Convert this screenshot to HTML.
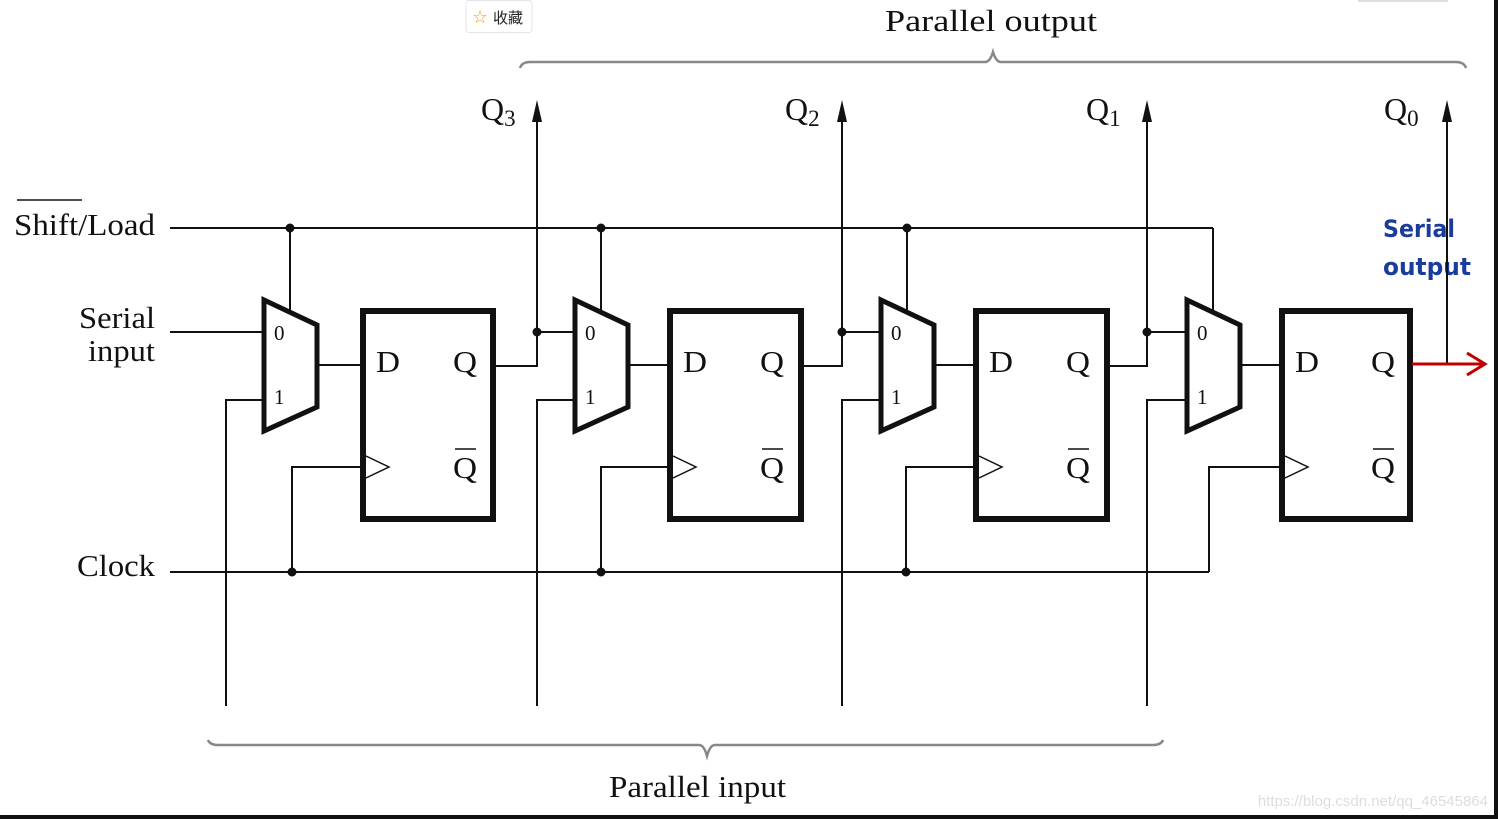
<!DOCTYPE html>
<html><head><meta charset="utf-8"><style>
html,body{margin:0;padding:0;background:#fff;width:1498px;height:819px;overflow:hidden}
svg{display:block}
.s{font-family:"Liberation Serif",serif;fill:#111}
</style></head><body>
<svg width="1498" height="819" viewBox="0 0 1498 819" xmlns="http://www.w3.org/2000/svg">
<rect x="0" y="0" width="1498" height="819" fill="#fff"/>
<rect x="1494" y="0" width="4" height="819" fill="#111"/>
<rect x="0" y="815" width="1498" height="4" fill="#111"/>
<rect x="466" y="0.5" width="66" height="32" rx="3" fill="#fff" stroke="#e4e4e4"/>
<text x="472" y="23" font-size="18" fill="#f39c12" font-family="DejaVu Sans,sans-serif">☆</text>
<text x="493" y="23" font-size="15" fill="#222" font-family="Noto Sans CJK SC,sans-serif">收藏</text>
<rect x="1358" y="0" width="90" height="2" fill="#ddd"/>
<path d="M520 68 Q522 62 530 62 L985 62 Q990 62 993 52 Q996 62 1001 62 L1456 62 Q1464 62 1466 68" fill="none" stroke="#888" stroke-width="2.5"/>
<path d="M208 740 Q210 745 218 745 L699 745 Q704 745 707 756 Q710 745 715 745 L1153 745 Q1161 745 1163 740" fill="none" stroke="#888" stroke-width="2.5"/>
<text class="s" x="885" y="31" font-size="31" textLength="212" lengthAdjust="spacingAndGlyphs">Parallel output</text>
<text class="s" x="609" y="797" font-size="31" textLength="177" lengthAdjust="spacingAndGlyphs">Parallel input</text>
<line x1="17" y1="200" x2="82" y2="200" stroke="#111" stroke-width="1.5"/>
<text class="s" x="14" y="235" font-size="31" textLength="141" lengthAdjust="spacingAndGlyphs">Shift/Load</text>
<text class="s" x="79" y="328" font-size="31" textLength="76" lengthAdjust="spacingAndGlyphs">Serial</text>
<text class="s" x="88" y="361" font-size="31" textLength="67" lengthAdjust="spacingAndGlyphs">input</text>
<text class="s" x="77" y="576" font-size="31" textLength="78" lengthAdjust="spacingAndGlyphs">Clock</text>
<g stroke="#111" stroke-width="2" fill="none">
<line x1="170" y1="228" x2="1213" y2="228"/>
<line x1="170" y1="572" x2="1209" y2="572"/>
<line x1="170" y1="332" x2="263" y2="332"/>
<polyline points="1213,228 1213,313"/>
<polyline points="1209,572 1209,467 1280,467"/>
</g>
<g fill="#111">
<circle cx="290" cy="228" r="4.5"/><circle cx="601" cy="228" r="4.5"/><circle cx="907" cy="228" r="4.5"/>
<circle cx="292" cy="572" r="4.5"/><circle cx="601" cy="572" r="4.5"/><circle cx="906" cy="572" r="4.5"/>
<circle cx="537" cy="332" r="4.5"/><circle cx="842" cy="332" r="4.5"/><circle cx="1147" cy="332" r="4.5"/>
</g>
<g stroke="#111" stroke-width="2" fill="none">
<line x1="290" y1="228" x2="290" y2="311"/>
<polyline points="292,572 292,467 361,467"/>
<polyline points="226,706 226,400 263,400"/>
<line x1="317" y1="365" x2="361" y2="365"/>
<polyline points="494,366 537,366 537,110"/>
<line x1="537" y1="332" x2="574" y2="332"/>
<line x1="601" y1="228" x2="601" y2="311"/>
<polyline points="601,572 601,467 668,467"/>
<polyline points="537,706 537,400 574,400"/>
<line x1="628" y1="365" x2="668" y2="365"/>
<polyline points="803,366 842,366 842,110"/>
<line x1="842" y1="332" x2="880" y2="332"/>
<line x1="907" y1="228" x2="907" y2="311"/>
<polyline points="906,572 906,467 974,467"/>
<polyline points="842,706 842,400 880,400"/>
<line x1="934" y1="365" x2="974" y2="365"/>
<polyline points="1109,366 1147,366 1147,110"/>
<line x1="1147" y1="332" x2="1186" y2="332"/>
<polyline points="1147,706 1147,400 1186,400"/>
<line x1="1240" y1="365" x2="1280" y2="365"/>
<line x1="1447" y1="364" x2="1447" y2="110"/>
</g>
<g fill="#111">
<polygon points="537,100 532,122 542,122"/>
<polygon points="842,100 837,122 847,122"/>
<polygon points="1147,100 1142,122 1152,122"/>
<polygon points="1447,100 1442,122 1452,122"/>
</g>
<g stroke="#111" stroke-width="5" fill="#fff">
<polygon points="264,300 317,325 317,407 264,431"/>
<polygon points="575,300 628,325 628,407 575,431"/>
<polygon points="881,300 934,325 934,407 881,431"/>
<polygon points="1187,300 1240,325 1240,407 1187,431"/>
</g>
<g stroke="#111" stroke-width="6" fill="#fff">
<rect x="363" y="311" width="130" height="208"/>
<rect x="670" y="311" width="131" height="208"/>
<rect x="976" y="311" width="131" height="208"/>
<rect x="1282" y="311" width="128" height="208"/>
</g>
<g stroke="#111" stroke-width="1.5" fill="none">
<polyline points="366,456 389,467 366,478"/>
<polyline points="673,456 696,467 673,478"/>
<polyline points="979,456 1002,467 979,478"/>
<polyline points="1285,456 1308,467 1285,478"/>
</g>
<g class="s" font-size="21">
<text x="274" y="340">0</text><text x="274" y="404">1</text>
<text x="585" y="340">0</text><text x="585" y="404">1</text>
<text x="891" y="340">0</text><text x="891" y="404">1</text>
<text x="1197" y="340">0</text><text x="1197" y="404">1</text>
</g>
<g class="s" font-size="31">
<text x="376" y="372" textLength="24" lengthAdjust="spacingAndGlyphs">D</text><text x="453" y="372" textLength="24" lengthAdjust="spacingAndGlyphs">Q</text><text x="453" y="478" textLength="24" lengthAdjust="spacingAndGlyphs">Q</text>
<text x="683" y="372" textLength="24" lengthAdjust="spacingAndGlyphs">D</text><text x="760" y="372" textLength="24" lengthAdjust="spacingAndGlyphs">Q</text><text x="760" y="478" textLength="24" lengthAdjust="spacingAndGlyphs">Q</text>
<text x="989" y="372" textLength="24" lengthAdjust="spacingAndGlyphs">D</text><text x="1066" y="372" textLength="24" lengthAdjust="spacingAndGlyphs">Q</text><text x="1066" y="478" textLength="24" lengthAdjust="spacingAndGlyphs">Q</text>
<text x="1295" y="372" textLength="24" lengthAdjust="spacingAndGlyphs">D</text><text x="1371" y="372" textLength="24" lengthAdjust="spacingAndGlyphs">Q</text><text x="1371" y="478" textLength="24" lengthAdjust="spacingAndGlyphs">Q</text>
</g>
<g class="s" font-size="32">
<text x="481" y="120">Q<tspan font-size="23" dy="6">3</tspan></text>
<text x="785" y="120">Q<tspan font-size="23" dy="6">2</tspan></text>
<text x="1086" y="120">Q<tspan font-size="23" dy="6">1</tspan></text>
<text x="1384" y="120">Q<tspan font-size="23" dy="6">0</tspan></text>
</g>
<g stroke="#111" stroke-width="1.5">
<line x1="455" y1="449" x2="476" y2="449"/>
<line x1="762" y1="449" x2="783" y2="449"/>
<line x1="1068" y1="449" x2="1089" y2="449"/>
<line x1="1373" y1="449" x2="1394" y2="449"/>
</g>
<text x="1383" y="237" font-size="24" font-weight="bold" fill="#1a3c9c" font-family="DejaVu Sans,sans-serif" textLength="72" lengthAdjust="spacingAndGlyphs">Serial</text>
<text x="1383" y="275" font-size="24" font-weight="bold" fill="#1a3c9c" font-family="DejaVu Sans,sans-serif" textLength="88" lengthAdjust="spacingAndGlyphs">output</text>
<line x1="1447" y1="364" x2="1447" y2="200" stroke="#111" stroke-width="2"/>
<line x1="1412" y1="364" x2="1484" y2="364" stroke="#c00000" stroke-width="3"/>
<polyline points="1467,353 1485,364 1467,375" fill="none" stroke="#c00000" stroke-width="3"/>
<text x="1488" y="806" font-size="15" text-anchor="end" fill="#ddd" font-family="Liberation Sans,sans-serif">https://blog.csdn.net/qq_46545864</text>
</svg>
</body></html>
